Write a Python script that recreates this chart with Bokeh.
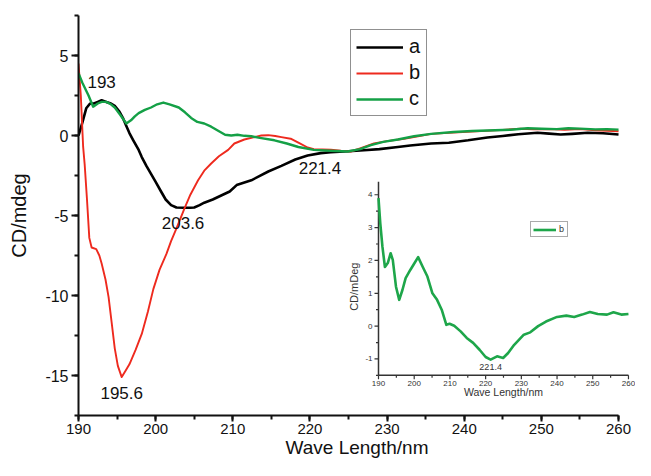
import numpy as np
from bokeh.plotting import figure
from bokeh.models import Range1d, SingleIntervalTicker, Legend, LegendItem
from bokeh.core.properties import value
from bokeh.embed import file_html
from bokeh.resources import INLINE

FONT = "Liberation Sans"

# ---- main data: wavelength (nm) vs CD (mdeg) ----
a_x = [190, 190.5, 191, 191.5, 192, 192.5, 193, 193.6, 194.2, 194.7, 195.3, 195.8, 196.2, 196.6,
       197.1, 197.8, 198.2, 198.8, 199.4, 200, 200.7, 201.3, 202, 202.7, 203.6, 204.5, 205, 205.7,
       206.3, 207.4, 208.5, 209.6, 210.5, 212.4, 214.6, 216.3, 218.1, 219.7, 221.4, 222.7, 225,
       227, 229, 231.4, 233, 235.7, 238, 240.5, 243, 245, 247, 249.5, 251, 252.5, 254, 256, 258, 260]
a_y = [0.0, 0.8, 1.7, 2.0, 2.0, 2.1, 2.2, 2.1, 2.0, 1.85, 1.5, 1.05, 0.6, 0.15,
       -0.3, -0.9, -1.35, -1.9, -2.4, -2.9, -3.5, -4.0, -4.35, -4.5, -4.52, -4.52, -4.5, -4.35,
       -4.2, -4.0, -3.75, -3.5, -3.1, -2.8, -2.25, -1.9, -1.5, -1.25, -1.1, -1.05, -0.98,
       -0.92, -0.85, -0.72, -0.62, -0.5, -0.45, -0.3, -0.12, -0.03, 0.08, 0.17, 0.12, 0.06, 0.1, 0.17, 0.14, 0.06]

b_x = [190, 190.3, 190.6, 190.8, 191.1, 191.4, 191.7, 192.3, 192.7, 193, 193.5, 193.9, 194.3, 194.7,
       195.1, 195.6, 196.1, 196.6, 197.4, 198.2, 199, 199.7, 200.5, 201.4, 202, 202.7, 203.7, 204.5,
       205.5, 206.3, 207.2, 208.2, 209.4, 210.2, 211.5, 212.8, 213.7, 214.6, 215.5, 216.3, 217.5,
       218.5, 219.7, 220.5, 222.7, 224, 225.3, 226.5, 228.3, 230, 232.2, 234, 235.7, 238.6, 241,
       244, 247.3, 249, 251, 253, 255, 257, 260]
b_y = [4.5, 2.5, -0.7, -1.8, -4.0, -6.4, -7.0, -7.1, -7.5, -8.0, -9.0, -10.1, -11.7, -13.3,
       -14.4, -15.1, -14.7, -14.3, -13.4, -12.4, -11.0, -9.6, -8.4, -7.4, -6.6, -5.8, -4.6, -3.7,
       -2.8, -2.2, -1.75, -1.3, -0.9, -0.5, -0.25, -0.1, 0.0, 0.02, -0.03, -0.1, -0.2,
       -0.45, -0.75, -0.85, -0.88, -0.95, -1.0, -0.8, -0.5, -0.35, -0.2, -0.05, 0.1, 0.18, 0.25,
       0.32, 0.42, 0.38, 0.4, 0.35, 0.4, 0.33, 0.27]

c_x = [190, 190.5, 191, 191.3, 191.9, 192.5, 193, 193.6, 194.2, 194.7, 195.4, 196.2, 196.8, 197.3,
       197.8, 198.6, 199.4, 200.2, 201, 201.8, 203, 203.8, 204.6, 205.4, 206.3, 207.2, 208.1, 209,
       209.8, 210.6, 211.5, 212.4, 213.5, 215.4, 217, 218.5, 220.5, 222.7, 224.9, 226.5, 227.9,
       229.5, 231.4, 233.5, 235.7, 238.6, 241, 244, 246, 248.2, 250, 252, 253.5, 255, 257, 258.5, 260]
c_y = [3.9, 3.3, 2.8, 2.5, 1.8, 2.0, 2.1, 2.1, 1.95, 1.75, 1.3, 0.75, 0.95, 1.2,
       1.4, 1.6, 1.75, 1.95, 2.06, 1.95, 1.75, 1.45, 1.1, 0.85, 0.75, 0.55, 0.3, 0.05,
       0.0, 0.05, -0.02, -0.05, -0.15, -0.3, -0.5, -0.72, -0.9, -0.95, -1.0, -0.85, -0.6,
       -0.4, -0.25, -0.05, 0.1, 0.22, 0.28, 0.33, 0.36, 0.45, 0.42, 0.4, 0.45, 0.43, 0.38, 0.4, 0.37]

series_labels = ["a", "b", "c"]
series_colors = ["#000000", "#ee2a1e", "#14a046"]

peak_x = [193.0, 203.55, 221.3, 195.6]
peak_y = [3.32, -5.45, -2.02, -16.08]
peak_text = ["193", "203.6", "221.4", "195.6"]

x_ticks = [190, 200, 210, 220, 230, 240, 250, 260]
y_ticks = [-15, -10, -5, 0, 5]

# ---- inset data ----
in_x = [190, 190.5, 191.1, 191.8, 192.6, 193.4, 194.0, 194.9, 195.8, 196.7, 197.6, 198.9, 199.8,
        201.1, 202.4, 203.7, 205.1, 206.4, 207.7, 209.0, 209.9, 211.2, 213.0, 214.7, 216.5, 218.3,
        220.0, 221.4, 223.2, 224.9, 226.3, 228.0, 230.7, 232.5, 234.7, 236.9, 240.0, 242.6, 244.8,
        247.0, 249.2, 251.4, 254.0, 255.8, 258.0, 260.0]
in_y = [3.9, 3.13, 2.42, 1.8, 1.92, 2.22, 2.02, 1.2, 0.8, 1.1, 1.46, 1.71, 1.87,
        2.1, 1.8, 1.51, 1.0, 0.8, 0.5, 0.04, 0.07, 0.01, -0.16, -0.36, -0.51, -0.72,
        -0.94, -1.02, -0.92, -0.97, -0.82, -0.57, -0.26, -0.19, 0.0, 0.14, 0.28, 0.32, 0.28,
        0.35, 0.43, 0.37, 0.35, 0.42, 0.35, 0.37]
in_label = "b"
in_peak_x = [221.4]
in_peak_y = [-1.02]
in_peak_text = ["221.4"]
in_xlim = [190, 260]
in_ylim = [-1.5, 4.4]
in_x_ticks = [190, 200, 210, 220, 230, 240, 250, 260]
in_x_minor = [195, 205, 215, 225, 235, 245, 255]
in_y_ticks = [-1, 0, 1, 2, 3, 4]
in_y_minor = [-1.5, -0.5, 0.5, 1.5, 2.5, 3.5]

# ---- figure ----
W, H = 635, 460
BL, BR, BT, BB = 78, 0, 15, 44
p = figure(width=W, height=H, output_backend="svg", toolbar_location=None,
           x_range=Range1d(190, 262.2), y_range=Range1d(-17.5, 7.5),
           min_border_left=BL, min_border_right=BR, min_border_top=BT, min_border_bottom=BB,
           x_axis_label="Wave Length/nm", y_axis_label="CD/mdeg")
p.outline_line_color = None
p.grid.visible = False
p.background_fill_color = "white"
p.border_fill_color = "white"

p.xaxis.ticker = SingleIntervalTicker(interval=10, num_minor_ticks=2)
p.xaxis.bounds = (190, 260)
p.yaxis.ticker = SingleIntervalTicker(interval=5, num_minor_ticks=2)
p.yaxis.major_label_overrides = {t: str(t) for t in y_ticks}
for ax in (p.xaxis, p.yaxis):
    ax.axis_line_width = 2
    ax.axis_line_color = "#111111"
    ax.major_tick_line_width = 2
    ax.minor_tick_line_width = 2
    ax.major_tick_line_color = "#111111"
    ax.minor_tick_line_color = "#111111"
    ax.major_tick_in = 0
    ax.minor_tick_in = 0
    ax.major_tick_out = 7
    ax.minor_tick_out = 4
    ax.major_label_text_font = FONT
    ax.major_label_text_font_size = "16px"
    ax.major_label_text_color = "#111111"
    ax.axis_label_text_font = FONT
    ax.axis_label_text_font_size = "20px"
    ax.axis_label_text_font_style = "normal"
    ax.axis_label_text_color = "#111111"
p.xaxis.major_tick_out = 6
p.xaxis.minor_tick_out = 4
p.xaxis.major_label_text_font_size = "15px"
p.xaxis.axis_label_text_font_size = "19px"
p.xaxis.major_label_standoff = 2
p.xaxis.axis_label_standoff = 0
p.yaxis.major_label_standoff = 3
p.yaxis.axis_label_standoff = 12

renderers = []
for xs, ys, col, w in ((a_x, a_y, series_colors[0], 2.6), (b_x, b_y, series_colors[1], 1.9),
                       (c_x, c_y, series_colors[2], 2.4)):
    renderers.append(p.line(xs, ys, line_color=col, line_width=w, line_join="round"))

p.text(x=peak_x, y=peak_y, text=peak_text, text_align="center", text_baseline="middle",
       text_font=value(FONT), text_font_size="17px", text_color="#111111")

legend = Legend(items=[LegendItem(label=l, renderers=[r]) for l, r in zip(series_labels, renderers)],
                location=(272, 299), margin=0, padding=5, spacing=3,
                glyph_width=47, glyph_height=20, label_height=20, label_width=12, label_standoff=6,
                label_text_font=FONT, label_text_font_size="20px", label_text_color="#111111",
                border_line_color="#222222", border_line_width=1.5, background_fill_color="white",
                background_fill_alpha=1)
p.add_layout(legend)

# ---- inset, drawn on its own ranges inside the frame ----
p.extra_x_ranges = {"ix": Range1d(105.99, 261.97)}
p.extra_y_ranges = {"iy": Range1d(-2.722, 9.459)}
kw = dict(x_range_name="ix", y_range_name="iy")
px_x = (W - BL - BR) / (261.97 - 105.99)
px_y = (H - BT - BB) / (9.459 + 2.722)
ICOL = "#333333"

p.segment(x0=[in_xlim[0], in_xlim[0]], y0=[in_ylim[0], in_ylim[0]],
          x1=[in_xlim[0], in_xlim[1]], y1=[in_ylim[1], in_ylim[0]],
          line_color=ICOL, line_width=1.5, **kw)
p.segment(x0=[in_xlim[0]] * len(in_y_ticks), x1=[in_xlim[0] - 4 / px_x] * len(in_y_ticks),
          y0=in_y_ticks, y1=in_y_ticks, line_color=ICOL, line_width=1.2, **kw)
p.segment(x0=[in_xlim[0]] * len(in_y_minor), x1=[in_xlim[0] - 2.5 / px_x] * len(in_y_minor),
          y0=in_y_minor, y1=in_y_minor, line_color=ICOL, line_width=1.2, **kw)
p.segment(x0=in_x_ticks, x1=in_x_ticks, y0=[in_ylim[0]] * len(in_x_ticks),
          y1=[in_ylim[0] - 4 / px_y] * len(in_x_ticks), line_color=ICOL, line_width=1.2, **kw)
p.segment(x0=in_x_minor, x1=in_x_minor, y0=[in_ylim[0]] * len(in_x_minor),
          y1=[in_ylim[0] - 2.5 / px_y] * len(in_x_minor), line_color=ICOL, line_width=1.2, **kw)
p.text(x=[in_xlim[0]] * len(in_y_ticks), y=in_y_ticks, text=[str(t) for t in in_y_ticks],
       text_align="right", text_baseline="middle", x_offset=-6,
       text_font=value(FONT), text_font_size="8px", text_color=ICOL, **kw)
p.text(x=in_x_ticks, y=[in_ylim[0]] * len(in_x_ticks), text=[str(t) for t in in_x_ticks],
       text_align="center", text_baseline="top", y_offset=6,
       text_font=value(FONT), text_font_size="8px", text_color=ICOL, **kw)
p.text(x=[183.0], y=[1.2], text=["CD/mDeg"], angle=np.pi / 2, text_align="center",
       text_baseline="middle", text_font=value(FONT), text_font_size="11px", text_color=ICOL, **kw)
p.text(x=[225.0], y=[-2.02], text=["Wave Length/nm"], text_align="center", text_baseline="middle",
       text_font=value(FONT), text_font_size="10.5px", text_color=ICOL, **kw)
r_in = p.line(in_x, in_y, line_color="#1ea64a", line_width=2.6, line_join="round", **kw)
p.text(x=in_peak_x, y=in_peak_y, text=in_peak_text, text_align="center", text_baseline="top",
       y_offset=4, text_font=value(FONT), text_font_size="9px", text_color=ICOL, **kw)

legend2 = Legend(items=[LegendItem(label=in_label, renderers=[r_in])],
                 location=(452, 178), margin=0, padding=2, spacing=0,
                 glyph_width=23, glyph_height=9, label_height=9, label_width=6, label_standoff=3,
                 label_text_font=FONT, label_text_font_size="9px", label_text_color=ICOL,
                 border_line_color="#555555", border_line_width=1.3, background_fill_color="white",
                 background_fill_alpha=1)
p.add_layout(legend2)

open("out.html", "w").write(file_html(p, INLINE))
